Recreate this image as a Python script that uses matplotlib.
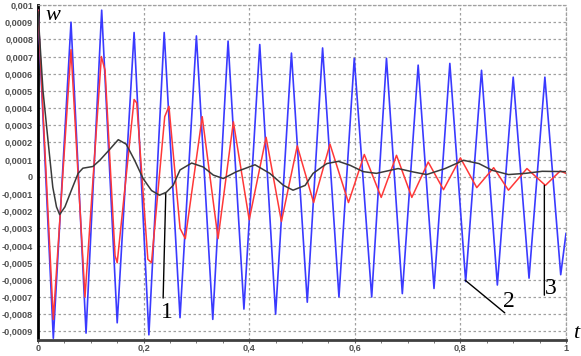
import numpy as np
import matplotlib
matplotlib.use("Agg")
import matplotlib.pyplot as plt

# curve 2 (blue): peaks / troughs
blue_t = [0, 0.029, 0.0625, 0.091, 0.1206, 0.15, 0.182, 0.21, 0.239, 0.269, 0.30,
          0.331, 0.36, 0.39, 0.42, 0.45, 0.48, 0.51, 0.539, 0.57, 0.599, 0.632,
          0.66, 0.69, 0.72, 0.75, 0.78, 0.81, 0.84, 0.87, 0.90, 0.93, 0.96, 0.99, 1.0]
blue_w = [0.00097, -0.00094, 0.0009, -0.00091, 0.00097, -0.00085, 0.00084, -0.00092,
          0.00084, -0.00082, 0.00082, -0.00083, 0.00079, -0.00077, 0.00077, -0.0008,
          0.00072, -0.00073, 0.00075, -0.0007, 0.00069, -0.0007, 0.00069, -0.00068,
          0.00065, -0.00065, 0.00066, -0.00061, 0.00062, -0.00063, 0.00058, -0.00059,
          0.00058, -0.00057, -0.00033]

# red curve
red_t = [0, 0.029, 0.0625, 0.089, 0.12, 0.127, 0.146, 0.15, 0.182, 0.187, 0.208, 0.215,
         0.24, 0.248, 0.269, 0.279, 0.311, 0.341, 0.37, 0.40, 0.432, 0.461, 0.491,
         0.522, 0.553, 0.588, 0.618, 0.65, 0.679, 0.708, 0.739, 0.768, 0.80, 0.831,
         0.863, 0.891, 0.926, 0.961, 0.989, 1.0]
red_w = [0.00097, -0.00083, 0.00074, -0.0007, 0.0007, 0.00062, -0.00046, -0.0005,
         0.00045, 0.00043, -0.00048, -0.0005, 0.00035, 0.00041, -0.0003, -0.00036,
         0.00035, -0.00036, 0.00032, -0.00025, 0.00023, -0.00026, 0.00018, -0.00015,
         0.00019, -0.00015, 0.00013, -0.00012, 0.000125, -0.00012, 0.000086, -0.000075,
         0.00011, -0.000063, 0.000053, -0.000078, 0.000048, -0.00005, 0.000034, 0.00002]

# curve 3 (dark, slow)
black_t = [0, 0.0095, 0.019, 0.028, 0.035, 0.041, 0.051, 0.063, 0.076, 0.085, 0.104,
           0.117, 0.133, 0.152, 0.167, 0.183, 0.199, 0.215, 0.23, 0.243, 0.256,
           0.269, 0.291, 0.313, 0.332, 0.351, 0.376, 0.411, 0.439, 0.465, 0.483,
           0.506, 0.521, 0.547, 0.569, 0.591, 0.616, 0.641, 0.682, 0.711, 0.736,
           0.771, 0.806, 0.835, 0.86, 0.891, 0.923, 0.955, 1.0]
black_w = [0.00096, 0.0005, 0.00021, -0.00006, -0.000175, -0.00022, -0.000175, -0.00008,
           0.00002, 0.00005, 0.00006, 0.000096, 0.00015, 0.000216, 0.00019, 0.000096,
           -0.00001, -0.00008, -0.000107, -0.00009, -0.00005, 0.00004, 0.00008,
           0.000057, 0.00001, -0.00001, 0.00003, 0.00007, 0.00002, -0.00005, -0.000078,
           -0.00005, 0.00002, 0.000077, 0.00009, 0.000067, 0.00003, 0.00002, 0.000048,
           0.000028, 0.000013, 0.000048, 0.000096, 0.000077, 0.000038, 0.000013,
           0.00002, 0.000032, 0.00003]

y_ticks = [round(v * 0.0001, 4) for v in range(-9, 11)]
y_labels = ["-0,0009", "-0,0008", "-0,0007", "-0,0006", "-0,0005", "-0,0004",
            "-0,0003", "-0,0002", "-0,0001", "0", "0,0001", "0,0002", "0,0003",
            "0,0004", "0,0005", "0,0006", "0,0007", "0,0008", "0,0009", "0,001"]
x_ticks = [0, 0.2, 0.4, 0.6, 0.8, 1.0]
x_labels = ["0", "0,2", "0,4", "0,6", "0,8", "1"]

fig = plt.figure(figsize=(5.81, 3.56), dpi=100)
ax = fig.add_axes([38 / 581, 1 - 340 / 356, 528 / 581, 335 / 356])

ax.plot(blue_t, blue_w, color="#3a3aff", lw=1.2, zorder=3)
ax.plot(red_t, red_w, color="#ff3838", lw=1.1, zorder=4)
ax.plot(black_t, black_w, color="#3a3a3a", lw=1.1, zorder=5)

ax.set_xlim(0, 1)
ax.set_ylim(-0.00095, 0.001)

ax.set_yticks(y_ticks)
ax.set_yticklabels(y_labels)
ax.set_xticks(x_ticks)
ax.set_xticklabels(x_labels)
ax.set_xticks(np.arange(0, 1.0001, 0.05), minor=True)

for lab in ax.get_yticklabels() + ax.get_xticklabels():
    lab.set_fontfamily("Liberation Sans")
    lab.set_fontsize(6.6)
    lab.set_fontweight("bold")
    lab.set_color("#505050")

ax.tick_params(axis="y", length=0, pad=3.5)
ax.tick_params(axis="x", which="both", length=2, color="#606060", pad=0.8)

ax.grid(axis="y", color="#a0a0a0", ls=(0, (2, 2)), lw=0.9)
ax.grid(axis="x", color="#a0a0a0", ls=(0, (2, 2)), lw=0.9)

for side in ["top", "right"]:
    ax.spines[side].set_color("#a0a0a0")
    ax.spines[side].set_linestyle((0, (2, 2)))
    ax.spines[side].set_linewidth(0.9)
ax.spines["left"].set_linewidth(2)
ax.spines["left"].set_color("black")
ax.spines["bottom"].set_linewidth(2)
ax.spines["bottom"].set_color("#404040")

# curve numbers with leader lines
line_kw = dict(arrowstyle="-", color="black", lw=1, shrinkA=0, shrinkB=0)
ax.annotate("", xy=(0.242, -0.0000977), xytext=(0.237, -0.000706), arrowprops=line_kw, zorder=6)
ax.annotate("", xy=(0.809, -0.000602), xytext=(0.884, -0.000792), arrowprops=line_kw, zorder=6)
ax.annotate("", xy=(0.959, -0.0000494), xytext=(0.959, -0.000689), arrowprops=line_kw, zorder=6)

num_kw = dict(family="Liberation Serif", fontsize=17, ha="center", va="center", zorder=7)
ax.text(0.244, -0.000788, "1", **num_kw)
ax.text(0.891, -0.000728, "2", **num_kw)
ax.text(0.971, -0.00065, "3", **num_kw)

ax_kw = dict(family="Liberation Serif", style="italic", fontsize=16,
             ha="center", va="center", clip_on=False, zorder=7)
ax.text(0.028, 0.000939, "w", **ax_kw)
ax.text(1.02, -0.000912, "t", **ax_kw)

fig.savefig("out.png", dpi=100)
